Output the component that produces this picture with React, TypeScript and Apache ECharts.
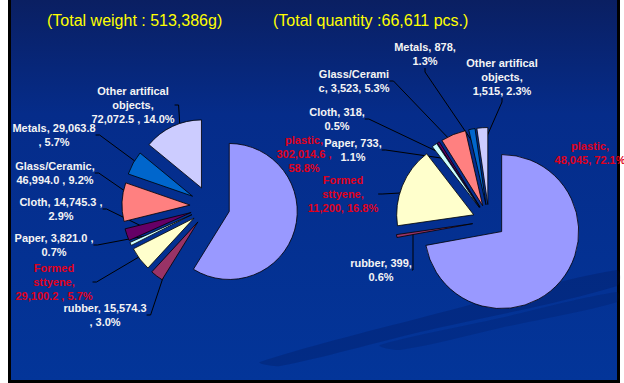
import React, { useEffect, useRef } from "react";
import * as echarts from "echarts";

const categories = [
  "plastic",
  "rubber",
  "Formed sttyene",
  "Paper",
  "Cloth",
  "Glass/Ceramic",
  "Metals",
  "Other artifical objects",
];
const colors = ["#9999FF", "#993366", "#FFFFCC", "#CCFFFF", "#660066", "#FF8080", "#0066CC", "#CCCCFF"];

const weightValues = [302014.6, 15574.3, 29100.2, 3821.0, 14745.3, 46994.0, 29063.8, 72072.5];
const quantityValues = [48045, 399, 11200, 733, 318, 3523, 878, 1515];

const weightLabels = [
  "plastic,\n302,014.6 ,\n58.8%",
  "rubber, 15,574.3\n, 3.0%",
  "Formed\nsttyene,\n29,100.2 , 5.7%",
  "Paper, 3,821.0 ,\n0.7%",
  "Cloth, 14,745.3 ,\n2.9%",
  "Glass/Ceramic,\n46,994.0 , 9.2%",
  "Metals, 29,063.8\n, 5.7%",
  "Other artifical\nobjects,\n72,072.5 , 14.0%",
];
const quantityLabels = [
  "plastic,\n48,045, 72.1%",
  "rubber, 399,\n0.6%",
  "Formed\nsttyene,\n11,200, 16.8%",
  "Paper, 733,\n1.1%",
  "Cloth, 318,\n0.5%",
  "Glass/Cerami\nc, 3,523, 5.3%",
  "Metals, 878,\n1.3%",
  "Other artifical\nobjects,\n1,515, 2.3%",
];

const titles = ["(Total weight : 513,386g)", "(Total quantity :66,611 pcs.)"];

// label centre positions (layout)
const weightLabelPos = [
  [304, 154],
  [105, 315],
  [54, 282],
  [54, 245],
  [61, 209],
  [55, 173],
  [54, 135],
  [133, 105],
];
const quantityLabelPos = [
  [590, 153],
  [381, 270],
  [343, 194],
  [353, 150],
  [337, 119],
  [354, 81],
  [425, 54],
  [502, 77],
];

const RED = "#e0001b";
const FONT = "Arial, 'Liberation Sans', sans-serif";

function slices(values: number[], center: number[], radius: number, offset: number) {
  return {
    type: "pie",
    z: 3,
    center,
    radius,
    startAngle: 90,
    clockwise: true,
    silent: true,
    selectedMode: "multiple",
    selectedOffset: offset,
    emphasis: { disabled: true },
    itemStyle: { borderColor: "#000", borderWidth: 0.8 },
    select: { itemStyle: { borderColor: "#000", borderWidth: 0.8 } },
    label: { show: false },
    labelLine: { show: false },
    data: values.map((v, i) => ({
      name: categories[i],
      value: v,
      selected: true,
      itemStyle: { color: colors[i] },
    })),
  };
}

function labelsSeries(values: number[], labels: string[], pos: number[][], center: number[], radius: number) {
  return {
    type: "pie",
    z: 2,
    center,
    radius,
    startAngle: 90,
    clockwise: true,
    silent: true,
    avoidLabelOverlap: false,
    minShowLabelAngle: 0,
    selectedMode: false,
    emphasis: { disabled: true },
    itemStyle: { color: "rgba(0,0,0,0)", borderWidth: 0 },
    labelLine: { show: true, length: 8, length2: 4, lineStyle: { color: "#000", width: 1 } },
    label: {
      show: true,
      position: "outside",
      fontFamily: FONT,
      fontSize: 11,
      fontWeight: "bold",
      color: "#f4f4f4",
      lineHeight: 14,
      align: "center",
    },
    labelLayout: (p: any) => {
      const q = pos[p.dataIndex];
      return { x: q[0], y: q[1], align: "center", verticalAlign: "middle" };
    },
    data: values.map((v, i) => ({
      name: categories[i],
      value: v,
      label: {
        formatter: labels[i],
        color: i === 0 || i === 2 ? RED : "#f4f4f4",
      },
      labelLine: i === 0 ? { show: false } : undefined,
    })),
  };
}

export default function App() {
  const ref = useRef<HTMLDivElement>(null);
  useEffect(() => {
    if (!ref.current) return;
    const chart = echarts.init(ref.current, null, { renderer: "svg" });
    chart.setOption({
      animation: false,
      backgroundColor: "#ffffff",
      graphic: [
        { type: "rect", z: -10, shape: { x: 8, y: 0, width: 612, height: 383 }, style: { fill: "#000" }, silent: true },
        {
          type: "rect",
          z: -9,
          shape: { x: 11, y: 0, width: 606, height: 380 },
          style: {
            fill: new echarts.graphic.LinearGradient(0, 0, 0, 1, [
              { offset: 0, color: "#0a1f62" },
              { offset: 0.3, color: "#052c8a" },
              { offset: 1, color: "#033599" },
            ]),
          },
          silent: true,
        },
        {
          type: "polygon",
          z: -8,
          silent: true,
          shape: {
            smooth: 0.3,
            points: [
              [260, 362], [420, 318], [617, 270], [617, 286], [420, 332], [280, 366],
            ],
          },
          style: { fill: "rgba(0,15,70,0.22)" },
        },
        {
          type: "polygon",
          z: -8,
          silent: true,
          shape: {
            smooth: 0.3,
            points: [
              [380, 345], [500, 318], [617, 292], [617, 302], [500, 328], [400, 350],
            ],
          },
          style: { fill: "rgba(0,15,70,0.18)" },
        },
      ],
      title: [
        {
          text: titles[0],
          left: 47,
          top: 12,
          padding: 0,
          textStyle: { color: "#ffff00", fontSize: 16, fontWeight: "normal", fontFamily: FONT },
        },
        {
          text: titles[1],
          left: 273,
          top: 12,
          padding: 0,
          textStyle: { color: "#ffff00", fontSize: 16, fontWeight: "normal", fontFamily: FONT },
        },
      ],
      series: [
        labelsSeries(weightValues, weightLabels, weightLabelPos, [210, 206], 68),
        labelsSeries(quantityValues, quantityLabels, quantityLabelPos, [489, 221], 77),
        slices(weightValues, [210, 206], 68, 20),
        slices(quantityValues, [489, 221], 77, 16.5),
      ],
    });
    return () => chart.dispose();
  }, []);
  return (
    <div style={{ position: "absolute", left: 0, top: 0, width: 624, height: 383 }}>
      <div ref={ref} style={{ width: 624, height: 383 }} />
    </div>
  );
}
